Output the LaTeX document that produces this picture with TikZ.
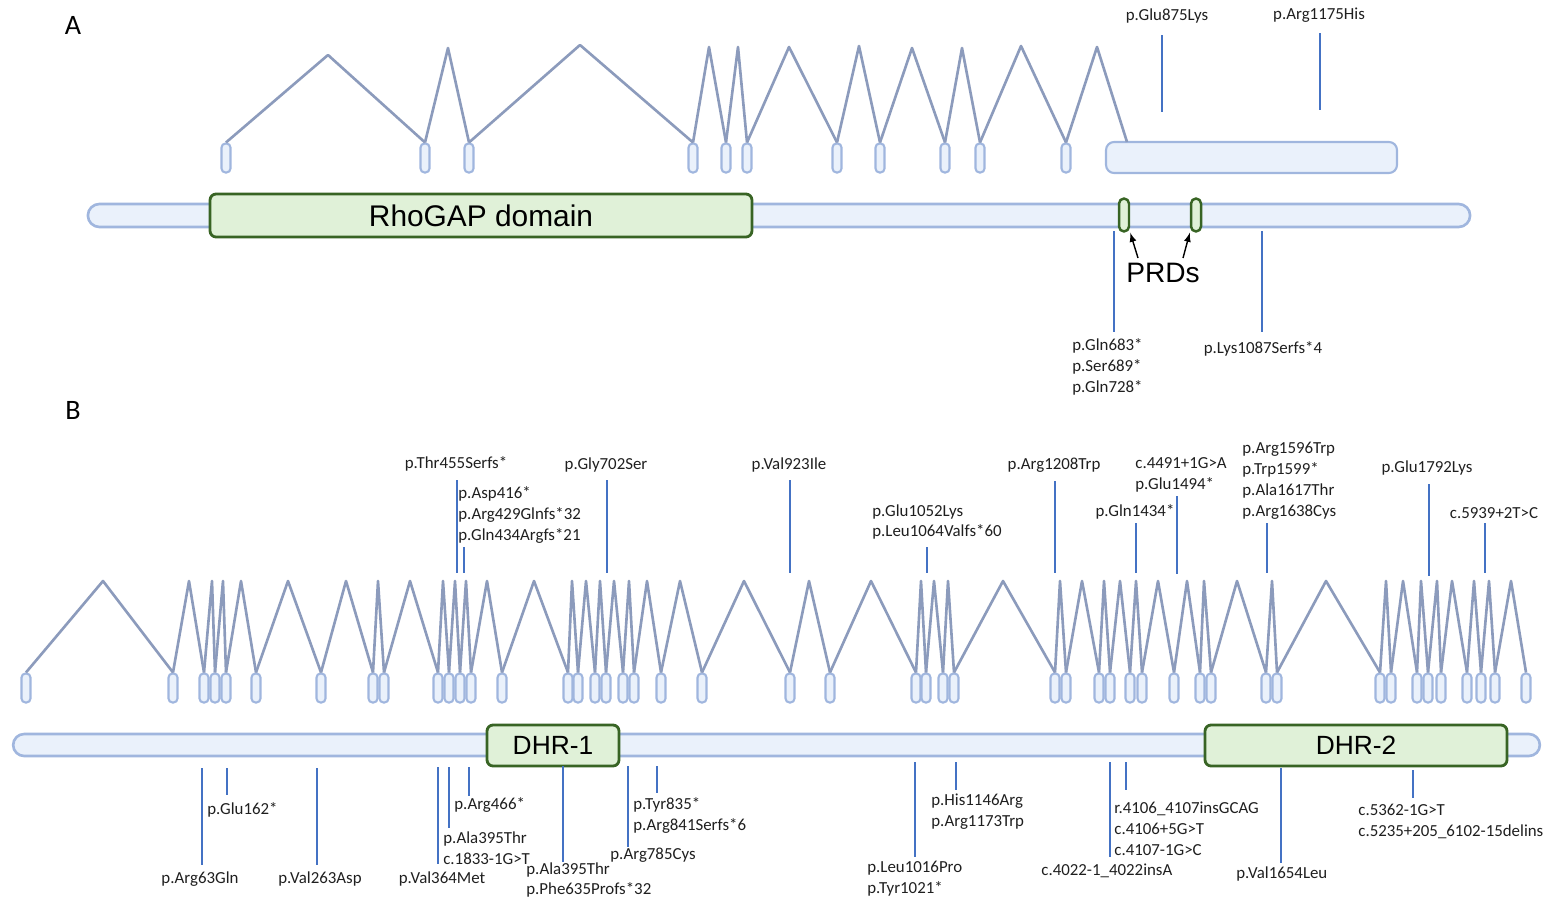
\documentclass[tikz,border=0pt]{standalone}
\usepackage{fontspec}
\setmainfont{Carlito}
\newfontfamily\domfont{Liberation Sans}

\definecolor{exonfill}{RGB}{234,241,251}
\definecolor{exonline}{RGB}{160,182,222}
\definecolor{intronline}{RGB}{140,155,188}
\definecolor{mutline}{RGB}{68,114,196}
\definecolor{domfill}{RGB}{224,241,216}
\definecolor{domline}{RGB}{56,100,36}

\tikzset{
  exon/.style={draw=exonline, fill=exonfill, line width=1.2pt, rounded corners=0.08cm,
    minimum width=0.18cm, minimum height=0.58cm, inner sep=0pt},
  intron/.style={draw=intronline, line width=1.5pt, line join=round},
  protbar/.style={draw=exonline, fill=exonfill, line width=1.5pt, inner sep=0pt},
  dombox/.style={draw=domline, fill=domfill, line width=1.6pt, rounded corners=0.12cm,
    inner sep=0pt, font=\domfont\fontsize{15}{18}\selectfont},
  prd/.style={draw=domline, fill=domfill, line width=1.4pt, rounded corners=0.1cm,
    minimum width=0.2cm, minimum height=0.66cm, inner sep=0pt},
  mut/.style={draw=mutline, line width=1.1pt},
  lbl/.style={inner sep=0pt, text=black!88, font=\fontsize{9.6}{11.9}\selectfont},
  lbll/.style={lbl, anchor=west, align=left},
  panel/.style={inner sep=0pt, font=\fontsize{16}{19}\selectfont},
}

\begin{document}
\begin{tikzpicture}[x=0.02cm, y=-0.02cm, line join=round]
    \useasboundingbox (0,0) rectangle (1550,899);

    % A
    \node[panel] (labA) at (73,25) {A};
    \foreach \x [count=\i] in {226,425,469,693,726,747,837,880,945,980,1066}
        \node[exon] (a\i) at (\x,158) {};
    \node[exon, minimum width=5.82cm, minimum height=0.62cm, rounded corners=0.16cm] (bigex) at (1251.5,157.5) {};
    \foreach \p/\q [count=\i, evaluate=\i as \j using int(\i+1)] in {328/55,448/48,580/45,709/47,738/47,789/47,859/46,912/48,962/48,1021/46}
        \draw[intron] (a\i.north) -- (\p,\q) -- (a\j.north);
    \coordinate (aend) at (1127,142);
    \draw[intron] (a11.north) -- (1097,47) -- (aend);

    \node[protbar, rounded corners=0.23cm, minimum width=27.65cm, minimum height=0.46cm] (protA) at (779,215.5) {};
    \node[dombox, minimum width=10.84cm, minimum height=0.86cm] (rhogap) at (481,215.5) {\fontsize{17}{20}\selectfont RhoGAP domain};
    \node[prd] (prd1) at (1124,215) {};
    \node[prd] (prd2) at (1196,215) {};
    \node[inner sep=0pt, font=\domfont\fontsize{16}{19}\selectfont] (prds) at (1163,273) {PRDs};
    \coordinate (t1) at (1138,258);
    \coordinate (t2) at (1183,258);
    \draw[-latex, line width=0.8pt] (t1) -- (prd1.south east);
    \draw[-latex, line width=0.8pt] (t2) -- (prd2.south west);

    \foreach \x/\ya/\yb in {1162/35/112,1320/33/110,1114/231/332,1262/231/332}
        \draw[mut] (\x,\ya) -- (\x,\yb);
    \node[lbl] (mA1) at (1167,16) {p.Glu875Lys};
    \node[lbl] (mA2) at (1319,15) {p.Arg1175His};
    \node[lbll] (mA3) at (1072,367) {p.Gln683*\\p.Ser689*\\p.Gln728*};
    \node[lbl] (mA4) at (1263,349) {p.Lys1087Serfs*4};

    % B
    \node[panel] (labB) at (73,410) {B};
    \foreach \x [count=\i] in {26,173,204,215,226,256,321,373,384,438,449,460,471,502,568,578,595,606,623,634,661,702,790,830,916,926,943,954,1055,1066,1099,1110,1130,1142,1174,1200,1211,1266,1277,1380,1391,1417,1428,1441,1467,1481,1495,1526}
        \node[exon] (b\i) at (\x,688) {};
    \foreach \p [count=\i, evaluate=\i as \j using int(\i+1)] in {103,189,212,223,241,288,346,378,410,443,455,466,487,534,572,586,600,614,629,647,680,744,809,871,921,934,948,1003,1060,1082,1104,1120,1136,1158,1187,1204,1237,1272,1326,1386,1403,1421,1437,1452,1474,1489,1511}
        \draw[intron] (b\i.north) -- (\p,581) -- (b\j.north);

    \node[protbar, rounded corners=0.22cm, minimum width=30.54cm, minimum height=0.44cm] (protB) at (776.5,745) {};
    \node[dombox, minimum width=2.64cm, minimum height=0.82cm] (dhr1) at (553,745.5) {DHR-1};
    \node[dombox, minimum width=6.04cm, minimum height=0.82cm] (dhr2) at (1356,745.5) {DHR-2};

    \foreach \x/\ya/\yb in {457/480/573,464/547/573,607/480/573,790/480/573,927/547/573,1055/481/573,1136/523/573,1177/496/574,1267/523/573,1429/484/576,1485/523/573}
        \draw[mut] (\x,\ya) -- (\x,\yb);
    \node[lbl] (mB1) at (456,464) {p.Thr455Serfs*};
    \node[lbll] (mB2) at (458,515) {p.Asp416*\\p.Arg429Glnfs*32\\p.Gln434Argfs*21};
    \node[lbl] (mB3) at (606,465) {p.Gly702Ser};
    \node[lbl] (mB4) at (789,465) {p.Val923Ile};
    \node[lbll] (mB5) at (872,522) {p.Glu1052Lys\\p.Leu1064Valfs*60};
    \node[lbl] (mB6) at (1054,465) {p.Arg1208Trp};
    \node[lbl] (mB7) at (1135,512) {p.Gln1434*};
    \node[lbll] (mB8) at (1135,474.5) {c.4491+1G>A\\p.Glu1494*};
    \node[lbll] (mB9) at (1242,481) {p.Arg1596Trp\\p.Trp1599*\\p.Ala1617Thr\\p.Arg1638Cys};
    \node[lbl] (mB10) at (1427,468) {p.Glu1792Lys};
    \node[lbl] (mB11) at (1494,513) {c.5939+2T>C};

    \foreach \x/\ya/\yb in {202/768/865,227/768/795,317/768/865,438/767/864,449/767/828,469/767/796,563/766/862,628/766/847,657/766/793,915/762/857,956/762/790,1110/762/857,1126/762/790,1281/768/863,1413/770/798}
        \draw[mut] (\x,\ya) -- (\x,\yb);
    \node[lbl] (mB12) at (200,879) {p.Arg63Gln};
    \node[lbll] (mB13) at (207,810) {p.Glu162*};
    \node[lbl] (mB14) at (320,879) {p.Val263Asp};
    \node[lbl] (mB15) at (442,879) {p.Val364Met};
    \node[lbll] (mB16) at (443,848) {p.Ala395Thr\\c.1833-1G>T};
    \node[lbll] (mB17) at (454,805) {p.Arg466*};
    \node[lbll] (mB18) at (526,880) {p.Ala395Thr\\p.Phe635Profs*32};
    \node[lbll] (mB19) at (610,855) {p.Arg785Cys};
    \node[lbll] (mB20) at (633,815.5) {p.Tyr835*\\p.Arg841Serfs*6};
    \node[lbll] (mB21) at (867,879) {p.Leu1016Pro\\p.Tyr1021*};
    \node[lbll] (mB22) at (931,812) {p.His1146Arg\\p.Arg1173Trp};
    \node[lbll] (mB23) at (1041,871) {c.4022-1\_4022insA};
    \node[lbll] (mB24) at (1114,829) {r.4106\_4107insGCAG\\c.4106+5G>T\\c.4107-1G>C};
    \node[lbll] (mB25) at (1236,874) {p.Val1654Leu};
    \node[lbll] (mB26) at (1358,821.5) {c.5362-1G>T\\c.5235+205\_6102-15delins};
\end{tikzpicture}
\end{document}
